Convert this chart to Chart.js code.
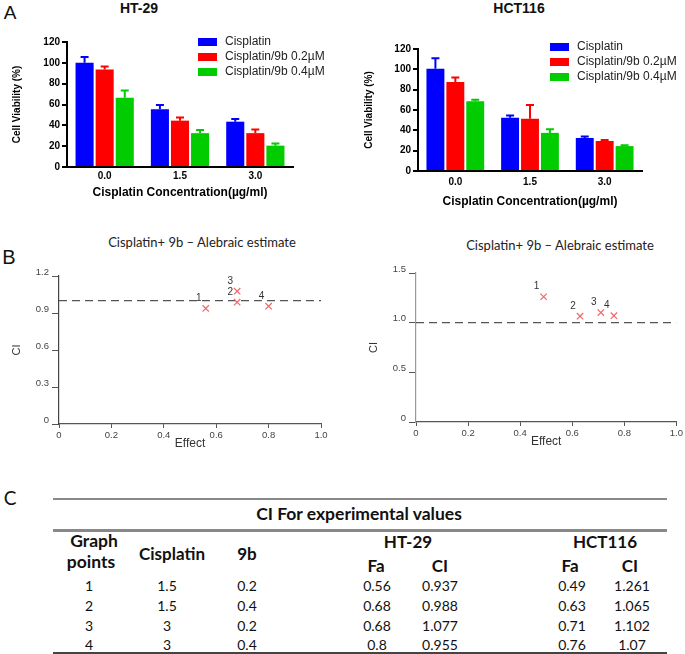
<!DOCTYPE html>
<html>
<head>
<meta charset="utf-8">
<script src="https://cdn.jsdelivr.net/npm/chart.js@4.4.1/dist/chart.umd.min.js"></script>
<style>
  html, body { margin: 0; padding: 0; background: #fff; }
  #page { position: relative; width: 685px; height: 654px; overflow: hidden; font-family: "Liberation Sans", Arial, sans-serif; color: #111; }
  canvas { position: absolute; }
  .t { position: absolute; transform: translate(-50%, -50%); line-height: 1; white-space: nowrap; }
  .tbl { font-family: Lato, "Open Sans", sans-serif; }
  .rule { position: absolute; left: 53px; width: 614px; }
</style>
</head>
<body>
<div id="page">
  <div class="t" style="left:10px;top:12px;font-size:19px">A</div>
  <div class="t" style="left:139px;top:8px;font-size:14px;font-weight:bold">HT-29</div>
  <div class="t" style="left:519px;top:8px;font-size:14px;font-weight:bold">HCT116</div>
  <canvas id="barHT" width="340" height="215" style="left:0;top:0"></canvas>
  <canvas id="barHCT" width="345" height="215" style="left:340px;top:0"></canvas>

  <div class="t" style="left:9px;top:257px;font-size:20px">B</div>
  <div class="t tbl" style="left:202px;top:242px;font-size:13px;color:#222">Cisplatin+ 9b – Alebraic estimate</div>
  <div class="t tbl" style="left:560px;top:245px;font-size:13px;color:#222">Cisplatin+ 9b – Alebraic estimate</div>
  <canvas id="ciHT" width="340" height="225" style="left:0;top:228px"></canvas>
  <canvas id="ciHCT" width="345" height="225" style="left:340px;top:228px"></canvas>

  <div class="t tbl" style="left:10px;top:497px;font-size:19px">C</div>
  <div id="table"></div>
</div>
<script>
// ---- data ----
const concLabels = ['0.0', '1.5', '3.0'];
const seriesNames = ['Cisplatin', 'Cisplatin/9b 0.2µM', 'Cisplatin/9b 0.4µM'];
const barColors = ['#0000ff', '#ff0000', '#00cc00'];

const ht29Cis = [100, 55.5, 43.5];
const ht29Cis02 = [93.5, 44.5, 32.5];
const ht29Cis04 = [66.5, 32.5, 20.5];
const ht29ErrCis = [5.5, 4, 2.5];
const ht29ErrCis02 = [3, 3, 3.5];
const ht29ErrCis04 = [7, 3, 2];

const hctCis = [100.5, 52.5, 32.5];
const hctCis02 = [87.5, 51.5, 29.5];
const hctCis04 = [68.5, 37.5, 24.5];
const hctErrCis = [10.5, 2, 1.5];
const hctErrCis02 = [4.5, 13.5, 1];
const hctErrCis04 = [1.5, 3.5, 0.8];

const graphPoints = ['1', '2', '3', '4'];
const cisplatinDose = ['1.5', '1.5', '3', '3'];
const dose9b = ['0.2', '0.4', '0.2', '0.4'];
const ht29Fa = [0.56, 0.68, 0.68, 0.8];
const ht29CI = [0.937, 0.988, 1.077, 0.955];
const hctFa = [0.49, 0.63, 0.71, 0.76];
const hctCI = [1.261, 1.065, 1.102, 1.07];

Chart.defaults.font.family = '"Liberation Sans", Arial, sans-serif';
Chart.defaults.color = '#111';

// error bars on top of each bar
const errorBars = {
  id: 'errorBars',
  afterDatasetsDraw(chart) {
    const ctx = chart.ctx, y = chart.scales.y;
    chart.data.datasets.forEach((ds, i) => {
      if (!ds.errors) return;
      chart.getDatasetMeta(i).data.forEach((bar, j) => {
        const top = y.getPixelForValue(ds.data[j] + ds.errors[j]);
        ctx.save();
        ctx.strokeStyle = ds.backgroundColor;
        ctx.lineWidth = 2;
        ctx.beginPath();
        ctx.moveTo(bar.x, bar.y);
        ctx.lineTo(bar.x, top);
        ctx.moveTo(bar.x - 4, top);
        ctx.lineTo(bar.x + 4, top);
        ctx.stroke();
        ctx.restore();
      });
    });
  }
};

// legend inside the plot, top right
const boxLegend = {
  id: 'boxLegend',
  afterDraw(chart, args, opts) {
    const ctx = chart.ctx;
    ctx.save();
    ctx.font = '12px "Liberation Sans", Arial, sans-serif';
    ctx.textBaseline = 'middle';
    chart.data.datasets.forEach((ds, i) => {
      const cy = opts.y + i * opts.gap;
      ctx.fillStyle = ds.backgroundColor;
      ctx.fillRect(opts.x, cy - 4, 19, 8);
      ctx.fillStyle = '#222';
      ctx.fillText(ds.label, opts.x + 27, cy);
    });
    ctx.restore();
  }
};

// numbers next to the CI points
const pointNumbers = {
  id: 'pointNumbers',
  afterDatasetsDraw(chart) {
    const ctx = chart.ctx;
    chart.data.datasets.forEach((ds, i) => {
      if (!ds.numbers) return;
      ctx.save();
      ctx.font = '10px "Liberation Sans", Arial, sans-serif';
      ctx.fillStyle = '#333';
      ctx.textAlign = 'center';
      ctx.textBaseline = 'middle';
      chart.getDatasetMeta(i).data.forEach((pt, j) => {
        ctx.fillText(ds.numbers[j], pt.x - 7, pt.y - 10);
      });
      ctx.restore();
    });
  }
};

function barChart(id, values, errors, g) {
  new Chart(document.getElementById(id), {
    type: 'bar',
    data: {
      labels: concLabels,
      datasets: values.map((v, i) => ({
        label: seriesNames[i],
        data: v,
        errors: errors[i],
        backgroundColor: barColors[i],
        borderWidth: 0
      }))
    },
    options: {
      responsive: false,
      animation: false,
      layout: { padding: { left: 0, top: g.top, right: g.right, bottom: 0 } },
      plugins: {
        legend: { display: false },
        tooltip: { enabled: false },
        boxLegend: g.legend
      },
      scales: {
        x: {
          grid: { display: false, drawTicks: false },
          border: { color: '#000', width: 2 },
          ticks: { padding: g.labelPad, font: { size: 10, weight: 'bold' }, color: '#000' },
          title: { display: true, text: 'Cisplatin Concentration(µg/ml)', font: { size: 12, weight: 'bold' }, color: '#000', padding: { top: 0, bottom: g.xTitlePad } },
          afterFit: s => { s.height = g.xH; }
        },
        y: {
          min: 0, max: 120,
          grid: { drawOnChartArea: false, tickLength: 5, color: '#000', lineWidth: 2 },
          border: { color: '#000', width: 2 },
          ticks: { stepSize: 20, padding: 2, font: { size: 10, weight: 'bold' }, color: '#000' },
          title: { display: true, text: 'Cell Viability (%)', font: { size: 10, weight: 'bold' }, color: '#000', padding: { top: g.yTitlePad, bottom: 0 } },
          afterFit: s => { s.width = g.yW; }
        }
      }
    },
    plugins: [errorBars, boxLegend]
  });
}

barChart('barHT', [ht29Cis, ht29Cis02, ht29Cis04], [ht29ErrCis, ht29ErrCis02, ht29ErrCis04],
  { top: 42, right: 47, xH: 48, yW: 67, labelPad: 3, xTitlePad: 15, yTitlePad: 11, legend: { x: 198, y: 42, gap: 15 } });
barChart('barHCT', [hctCis, hctCis02, hctCis04], [hctErrCis, hctErrCis02, hctErrCis04],
  { top: 49, right: 43, xH: 44, yW: 78, labelPad: 5, xTitlePad: 6, yTitlePad: 23, legend: { x: 210, y: 47, gap: 15 } });

const tickFmt = v => (v === 0 ? '0' : v.toFixed(1));

function ciChart(id, fa, ci, g) {
  new Chart(document.getElementById(id), {
    type: 'scatter',
    data: {
      datasets: [
        {
          data: fa.map((x, i) => ({ x: x, y: ci[i] })),
          numbers: graphPoints,
          pointStyle: 'crossRot',
          pointRadius: 4.5,
          borderColor: '#f06868',
          borderWidth: 1.2
        },
        {
          type: 'line',
          data: [{ x: 0, y: 1 }, { x: 1, y: 1 }],
          borderColor: '#555',
          borderWidth: 1.2,
          borderDash: [8, 5],
          pointRadius: 0
        }
      ]
    },
    options: {
      responsive: false,
      animation: false,
      layout: { padding: { left: 0, top: g.top, right: g.right, bottom: 0 } },
      plugins: { legend: { display: false }, tooltip: { enabled: false } },
      scales: {
        x: {
          min: 0, max: 1,
          grid: { drawOnChartArea: false, tickLength: 4, color: '#555' },
          border: { color: '#555', width: 1.2 },
          ticks: { stepSize: 0.2, padding: 2, font: { size: 9.5 }, color: '#444', callback: tickFmt },
          title: { display: true, text: 'Effect', font: { size: 12 }, color: '#333', padding: { top: 0, bottom: g.xTitlePad } },
          afterFit: s => { s.height = g.xH; }
        },
        y: {
          min: 0, max: g.yMax,
          grid: { drawOnChartArea: false, tickLength: 7, color: '#555' },
          border: { color: g.yAxisColor, width: 1.2 },
          ticks: { stepSize: g.yStep, padding: 3, labelOffset: -4, font: { size: 9.5 }, color: '#444', callback: tickFmt },
          title: { display: true, text: 'CI', font: { size: 11 }, color: '#333', padding: { top: g.yTitlePad, bottom: 0 } },
          afterFit: s => { s.width = g.yW; }
        }
      }
    },
    plugins: [pointNumbers]
  });
}

ciChart('ciHT', ht29Fa, ht29CI,
  { top: 48, right: 19, xH: 29, yW: 59, yMax: 1.2, yStep: 0.3, xTitlePad: 2, yTitlePad: 10, yAxisColor: '#444' });
ciChart('ciHCT', hctFa, hctCI,
  { top: 45, right: 7, xH: 31, yW: 76, yMax: 1.5, yStep: 0.5, xTitlePad: 4, yTitlePad: 27, yAxisColor: '#999' });

// ---- table C ----
const table = document.getElementById('table');
function cell(text, x, y, size, bold) {
  const d = document.createElement('div');
  d.className = 't tbl';
  d.style.left = x + 'px';
  d.style.top = y + 'px';
  d.style.fontSize = size + 'px';
  if (bold) d.style.fontWeight = 'bold';
  d.textContent = text;
  table.appendChild(d);
}
function rule(y, h, color) {
  const d = document.createElement('div');
  d.className = 'rule';
  d.style.top = y + 'px';
  d.style.height = h + 'px';
  d.style.background = color;
  table.appendChild(d);
}
rule(498, 1.5, '#888');
rule(529, 2.5, '#888');
rule(652, 1.5, '#444');
cell('CI For experimental values', 359, 514, 17.5, true);
cell('Graph', 94, 541, 17.5, true);
cell('points', 91, 562, 17.5, true);
cell('Cisplatin', 172, 553, 17, true);
cell('9b', 247, 553, 17, true);
cell('HT-29', 408, 541, 17, true);
cell('HCT116', 605, 541, 17, true);
cell('Fa', 376, 565, 17, true);
cell('CI', 440, 565, 17, true);
cell('Fa', 570, 565, 17, true);
cell('CI', 630, 565, 17, true);
const rowY = [586, 606, 626, 645];
graphPoints.forEach((p, i) => {
  const y = rowY[i];
  cell(p, 89, y, 14);
  cell(cisplatinDose[i], 167, y, 14);
  cell(dose9b[i], 247, y, 14);
  cell(String(ht29Fa[i]), 377, y, 14);
  cell(String(ht29CI[i]), 440, y, 14);
  cell(String(hctFa[i]), 572, y, 14);
  cell(String(hctCI[i]), 632, y, 14);
});
</script>
</body>
</html>
